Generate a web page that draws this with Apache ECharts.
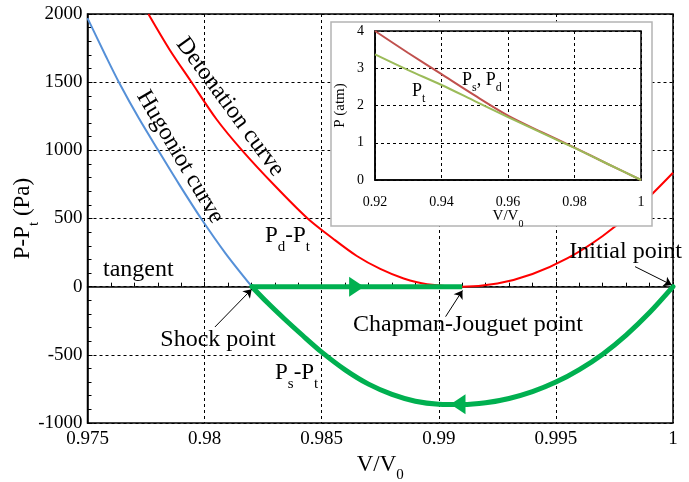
<!DOCTYPE html>
<html>
<head>
<meta charset="utf-8">
<script src="https://cdn.jsdelivr.net/npm/echarts@6/dist/echarts.min.js"></script>
<style>html,body{margin:0;padding:0;background:#fff}#c{width:689px;height:482px}</style>
</head>
<body>
<div id="c"></div>
<script>
// ---- main chart data ----
const mainXTicks = [0.975, 0.98, 0.985, 0.99, 0.995, 1];
const mainYTicks = [-1000, -500, 0, 500, 1000, 1500, 2000];
const hugoniotX = [0.975, 0.9758, 0.97634, 0.9772, 0.97802, 0.9789, 0.97985, 0.9809, 0.98202];
const hugoniotY = [1970, 1685, 1500, 1233, 1000, 754, 500, 243, 0];
const detonationX = [0.9776, 0.9785, 0.9794, 0.9805, 0.9816, 0.9830, 0.9844, 0.9855, 0.9865, 0.9875, 0.9885, 0.9895, 0.9910, 0.9925, 0.9940, 0.9955, 0.9970, 0.9985, 1.0];
const detonationY = [2000, 1740, 1510, 1230, 1000, 740, 500, 350, 225, 130, 60, 18, 0, 23, 93, 209, 372, 580, 836];
const tangentX = [0.98202, 0.99100];
const tangentY = [0, 0];
const shockX = [0.98202, 0.9827, 0.9834, 0.9842, 0.9850, 0.9860, 0.9870, 0.9880, 0.9890, 0.9900, 0.9910, 0.9920, 0.9930, 0.9940, 0.9950, 0.9960, 0.9970, 0.9980, 0.9990, 1.0];
const shockY = [0, -120, -235, -360, -480, -610, -715, -790, -840, -862, -865, -852, -820, -770, -700, -608, -495, -355, -190, 0];
const flowArrowX = [0.98649, 0.99082];
const flowArrowY = [0, -863];
const flowArrowRot = [-90, 90];
// annotation pointers: [fromX, fromY, toX, toY]
const pointerShock = [0.98044, -296, 0.98201, -19];
const pointerCJ = [0.99029, -220, 0.99101, -28];
const pointerInit = [0.99838, 147, 0.99995, 12];

// ---- inset data ----
const insetXTicks = [0.92, 0.94, 0.96, 0.98, 1];
const insetYTicks = [0, 1, 2, 3, 4];
const insetX = [0.92, 0.93, 0.94, 0.95, 0.96, 0.97, 0.98, 0.99, 1.0];
const insetPsPd = [4.0, 3.41, 2.84, 2.27, 1.73, 1.29, 0.87, 0.43, 0];
const insetPt = [3.37, 2.95, 2.55, 2.12, 1.69, 1.27, 0.86, 0.43, 0];

const zip = (xs, ys) => xs.map((x, i) => [x, ys[i]]);
const serif = '"Liberation Serif", "Times New Roman", serif';
const fmt = v => String(+(+v).toFixed(3));

const chart = echarts.init(document.getElementById('c'), null, {renderer: 'canvas'});

const subRich = (size) => ({
  n: {fontFamily: serif, fontSize: size, color: '#000'},
  sub: {fontFamily: serif, fontSize: Math.round(size * 0.65), color: '#000', verticalAlign: 'bottom', padding: [0, 0, -Math.round(size*0.3), 0]}
});

function pointerLine(p) {
  return [{coord: [p[0], p[1]]}, {coord: [p[2], p[3]]}];
}

const F = 24; // annotation font size
const option = {
  animation: false,
  backgroundColor: '#fff',
  textStyle: {fontFamily: serif, color: '#000'},
  grid: [
    {left: 87.5, right: 16, top: 14, bottom: 59, containLabel: false, outerBoundsMode: 'none', show: true, borderColor: '#000', borderWidth: 1.5, backgroundColor: 'transparent', z: 0},
    {left: 375, width: 266, top: 31, height: 149, containLabel: false, outerBoundsMode: 'none', show: true, borderColor: '#000', borderWidth: 1.5, backgroundColor: 'transparent', z: 10}
  ],
  xAxis: [
    {
      gridIndex: 0, type: 'value',
      min: mainXTicks[0], max: mainXTicks[mainXTicks.length - 1],
      interval: +(mainXTicks[1] - mainXTicks[0]).toFixed(3),
      name: '{n|V/V}{sub|0}', nameLocation: 'middle', nameGap: 30, nameMoveOverlap: false,
      nameTextStyle: {fontFamily: serif, fontSize: 23, color: '#000', rich: subRich(23)},
      axisLine: {lineStyle: {color: '#000', width: 1.5}},
      axisTick: {show: true, inside: true, length: 5, lineStyle: {color: '#000'}},
      minorTick: {show: true, splitNumber: 5, length: 4, lineStyle: {color: '#000'}},
      axisLabel: {fontFamily: serif, fontSize: 19, color: '#000', margin: 7, formatter: fmt},
      splitLine: {show: true, lineStyle: {color: '#000', type: [3, 3], width: 1}},
      z: 1
    },
    {
      gridIndex: 1, type: 'value',
      min: insetXTicks[0], max: insetXTicks[insetXTicks.length - 1],
      interval: +(insetXTicks[1] - insetXTicks[0]).toFixed(3),
      name: '{n|V/V}{sub|0}', nameLocation: 'middle', nameGap: 29, nameMoveOverlap: false,
      nameTextStyle: {fontFamily: serif, fontSize: 15, color: '#000', rich: subRich(15)},
      axisLine: {lineStyle: {color: '#000', width: 1.5}},
      axisTick: {show: false},
      axisLabel: {fontFamily: serif, fontSize: 14, color: '#000', margin: 15, formatter: fmt},
      splitLine: {show: true, lineStyle: {color: '#000', type: [3, 3], width: 1}},
      z: 10
    }
  ],
  yAxis: [
    {
      gridIndex: 0, type: 'value',
      min: mainYTicks[0], max: mainYTicks[mainYTicks.length - 1],
      interval: mainYTicks[1] - mainYTicks[0],
      name: '{n|P-P}{sub|t}{n| (Pa)}', nameLocation: 'middle', nameGap: 53, nameMoveOverlap: false,
      nameTextStyle: {fontFamily: serif, fontSize: 23, color: '#000', rich: subRich(23)},
      axisLine: {lineStyle: {color: '#000', width: 1.5}},
      axisTick: {show: true, inside: true, length: 5, lineStyle: {color: '#000'}},
      minorTick: {show: true, splitNumber: 5, length: 4, lineStyle: {color: '#000'}},
      axisLabel: {fontFamily: serif, fontSize: 19, color: '#000', margin: 5, formatter: v => String(v)},
      splitLine: {show: true, lineStyle: {color: '#000', type: [3, 3], width: 1}},
      z: 1
    },
    {
      gridIndex: 1, type: 'value',
      min: insetYTicks[0], max: insetYTicks[insetYTicks.length - 1],
      interval: insetYTicks[1] - insetYTicks[0],
      name: 'P (atm)', nameLocation: 'middle', nameGap: 27, nameMoveOverlap: false,
      nameTextStyle: {fontFamily: serif, fontSize: 15, color: '#000'},
      axisLine: {lineStyle: {color: '#000', width: 1.5}},
      axisTick: {show: false},
      axisLabel: {fontFamily: serif, fontSize: 14, color: '#000', margin: 11, formatter: v => String(v)},
      splitLine: {show: true, lineStyle: {color: '#000', type: [3, 3], width: 1}},
      z: 10
    }
  ],
  series: [
    {
      name: 'Hugoniot', type: 'line', xAxisIndex: 0, yAxisIndex: 0,
      data: zip(hugoniotX, hugoniotY), smooth: 0.3, showSymbol: false,
      lineStyle: {color: '#5590d8', width: 2}, z: 2,
      markLine: {
        silent: true, symbol: ['none', 'arrow'], symbolSize: 8,
        label: {show: false},
        lineStyle: {color: '#000', width: 1, type: 'solid'},
        data: [pointerLine(pointerShock), pointerLine(pointerCJ), pointerLine(pointerInit)]
      }
    },
    {
      name: 'Detonation', type: 'line', xAxisIndex: 0, yAxisIndex: 0,
      data: zip(detonationX, detonationY), smooth: 0.3, showSymbol: false,
      lineStyle: {color: '#ff0000', width: 2}, z: 2
    },
    {
      name: 'Tangent', type: 'line', xAxisIndex: 0, yAxisIndex: 0,
      data: zip(tangentX, tangentY), showSymbol: false,
      lineStyle: {color: '#00b050', width: 5}, z: 3
    },
    {
      name: 'Shock', type: 'line', xAxisIndex: 0, yAxisIndex: 0,
      data: zip(shockX, shockY), smooth: 0.3, showSymbol: false,
      lineStyle: {color: '#00b050', width: 5, cap: 'round'}, z: 3
    },
    {
      name: 'FlowArrows', type: 'scatter', xAxisIndex: 0, yAxisIndex: 0,
      data: flowArrowX.map((x, i) => ({value: [x, flowArrowY[i]], symbolRotate: flowArrowRot[i]})),
      symbol: 'triangle', symbolSize: [20, 15],
      itemStyle: {color: '#00b050', opacity: 1}, z: 4
    },
    {
      name: 'Ps,Pd', type: 'line', xAxisIndex: 1, yAxisIndex: 1,
      data: zip(insetX, insetPsPd), smooth: 0.3, showSymbol: false,
      lineStyle: {color: '#c0504d', width: 2}, z: 11
    },
    {
      name: 'Pt', type: 'line', xAxisIndex: 1, yAxisIndex: 1,
      data: zip(insetX, insetPt), smooth: 0.3, showSymbol: false,
      lineStyle: {color: '#9bbb59', width: 2}, z: 12
    }
  ],
  graphic: [
    {type: 'rect', z: 5, shape: {x: 331, y: 22, width: 321, height: 204},
     style: {fill: '#fff', stroke: '#b4b4b4', lineWidth: 1.5}},
    {type: 'text', z: 20, x: 230, y: 107, rotation: -53.7 * Math.PI / 180,
     style: {text: 'Detonation curve', font: F + 'px ' + serif, fill: '#000', align: 'center', verticalAlign: 'middle'}},
    {type: 'text', z: 20, x: 180, y: 157, rotation: -59.4 * Math.PI / 180,
     style: {text: 'Hugoniot curve', font: F + 'px ' + serif, fill: '#000', align: 'center', verticalAlign: 'middle'}},
    {type: 'text', z: 20, x: 265, y: 236,
     style: {text: '{n|P}{sub|d}{n|-P}{sub|t}', rich: subRich(23), align: 'left', verticalAlign: 'middle'}},
    {type: 'text', z: 20, x: 103, y: 270,
     style: {text: 'tangent', font: F + 'px ' + serif, fill: '#000', align: 'left', verticalAlign: 'middle'}},
    {type: 'text', z: 20, x: 218, y: 340,
     style: {text: 'Shock point', font: F + 'px ' + serif, fill: '#000', align: 'center', verticalAlign: 'middle'}},
    {type: 'text', z: 20, x: 353, y: 325,
     style: {text: 'Chapman-Jouguet point', font: F + 'px ' + serif, fill: '#000', align: 'left', verticalAlign: 'middle'}},
    {type: 'text', z: 20, x: 682, y: 252,
     style: {text: 'Initial point', font: F + 'px ' + serif, fill: '#000', align: 'right', verticalAlign: 'middle'}},
    {type: 'text', z: 20, x: 275, y: 373,
     style: {text: '{n|P}{sub|s}{n|-P}{sub|t}', rich: subRich(23), align: 'left', verticalAlign: 'middle'}},
    {type: 'text', z: 20, x: 462, y: 80,
     style: {text: '{n|P}{sub|s}{n|, P}{sub|d}', rich: subRich(18), align: 'left', verticalAlign: 'middle'}},
    {type: 'text', z: 20, x: 412, y: 91,
     style: {text: '{n|P}{sub|t}', rich: subRich(18), align: 'left', verticalAlign: 'middle'}}
  ]
};
chart.setOption(option);
</script>
</body>
</html>
